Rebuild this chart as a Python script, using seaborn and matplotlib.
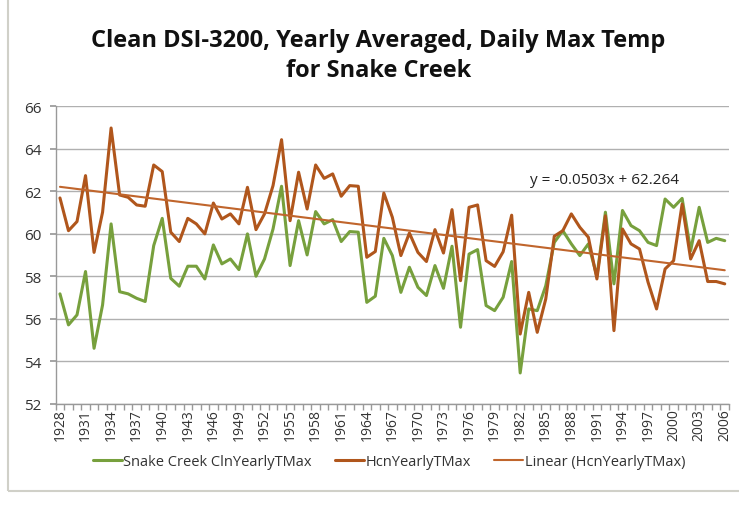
import numpy as np
import pandas as pd
import matplotlib
matplotlib.use("Agg")
import matplotlib.pyplot as plt
import seaborn as sns

years = list(range(1928, 2007))

snake_creek = [
    57.18, 55.72, 56.19, 58.23, 54.62, 56.66, 60.47, 57.28, 57.18, 56.97,
    56.82, 59.45, 60.73, 57.91, 57.54, 58.48, 58.48, 57.88, 59.48, 58.59,
    58.82, 58.32, 60.00, 58.01, 58.82, 60.23, 62.24, 58.51, 60.62, 59.01,
    61.05, 60.47, 60.67, 59.64, 60.11, 60.08, 56.78, 57.07, 59.79, 58.98,
    57.25, 58.43, 57.49, 57.10, 58.51, 57.44, 59.42, 55.61, 59.05, 59.26,
    56.63, 56.39, 57.02, 58.70, 53.46, 56.47, 56.39, 57.56, 59.60, 60.15,
    59.53, 58.98, 59.53, 58.00, 61.02, 57.65, 61.10, 60.39, 60.15, 59.60,
    59.45, 61.64, 61.25, 61.67, 59.21, 61.25, 59.60, 59.79, 59.68,
]

hcn = [
    61.69, 60.15, 60.58, 62.74, 59.13, 61.02, 64.98, 61.83, 61.72, 61.36,
    61.30, 63.24, 62.93, 60.08, 59.64, 60.73, 60.47, 60.00, 61.45, 60.70,
    60.94, 60.47, 62.19, 60.20, 60.94, 62.27, 64.43, 60.62, 62.90, 61.17,
    63.24, 62.61, 62.82, 61.77, 62.27, 62.24, 58.90, 59.17, 61.92, 60.78,
    58.98, 60.04, 59.13, 58.70, 60.20, 59.10, 61.14, 57.80, 61.25, 61.36,
    58.74, 58.47, 59.16, 60.88, 55.29, 57.25, 55.37, 56.94, 59.89, 60.15,
    60.94, 60.31, 59.84, 57.88, 60.85, 55.45, 60.23, 59.53, 59.29, 57.73,
    56.47, 58.35, 58.74, 61.40, 58.82, 59.68, 57.76, 57.76, 57.65,
]

trend_slope = -0.0503
trend_intercept = 62.264

green = "#77a03d"
brown = "#b0561c"
trend_col = "#c0652c"

sns.set_theme(style="white")
plt.rcParams['font.family'] = ['Open Sans', 'DejaVu Sans']

idx = np.arange(len(years))
df = pd.DataFrame({"i": idx, "snake": snake_creek, "hcn": hcn,
                   "trend": trend_slope * (idx + 1) + trend_intercept})

fig = plt.figure(figsize=(7.39, 5.06), dpi=100)
ax = fig.add_axes([55.7 / 739, 1 - 405 / 506, (729 - 55.7) / 739, (405 - 107.3) / 506])

sns.lineplot(data=df, x="i", y="snake", ax=ax, color=green, linewidth=2.2,
             label="Snake Creek ClnYearlyTMax")
sns.lineplot(data=df, x="i", y="hcn", ax=ax, color=brown, linewidth=2.2,
             label="HcnYearlyTMax")
sns.lineplot(data=df, x="i", y="trend", ax=ax, color=trend_col, linewidth=1.5,
             label="Linear (HcnYearlyTMax)")

ax.set_xlim(-0.5, len(years) - 0.5)
ax.set_ylim(52, 66)
ax.set_yticks(np.arange(52, 67, 2))
ax.set_yticklabels([str(v) for v in range(52, 67, 2)], fontsize=11, color="#333333")
ax.yaxis.grid(True, color="#b0b0b0", linewidth=1)
ax.set_axisbelow(True)

major = idx[::3]
ax.set_xticks(major)
ax.set_xticklabels([str(years[i]) for i in major], rotation=90, fontsize=10, color="#333333")
ax.set_xticks(np.arange(-0.5, len(years), 1), minor=True)
ax.tick_params(axis="x", which="major", length=0, pad=3)
ax.tick_params(axis="x", which="minor", length=4, color="#999999", bottom=True)
ax.tick_params(axis="y", length=4, color="#999999", left=True, pad=6)
ax.set_xlabel("")
ax.set_ylabel("")
for s in ["top", "right"]:
    ax.spines[s].set_visible(False)
for s in ["left", "bottom"]:
    ax.spines[s].set_color("#999999")
    ax.spines[s].set_linewidth(1)

ax.text(0.705, 0.755, "y = -0.0503x + 62.264", transform=ax.transAxes,
        fontsize=11, color="#222222", ha="left", va="center")

fig.text(0.512, 0.889, "Clean DSI-3200, Yearly Averaged, Daily Max Temp\nfor Snake Creek",
         ha="center", va="center", fontsize=17, fontweight="bold", color="#111111",
         linespacing=1.3)

leg = ax.legend(loc="upper center", bbox_to_anchor=(0.495, -0.125), ncol=3, frameon=False,
                fontsize=10.5, handlelength=2.0, columnspacing=1.6, handletextpad=0.1)
for t in leg.get_texts():
    t.set_color("#333333")

border = plt.Rectangle((8 / 739, 1 - 492 / 506), 1.5, 2, transform=fig.transFigure,
                       fill=False, edgecolor="#d0d0c8", linewidth=1.5)
fig.patches.append(border)

fig.savefig("out.png", dpi=100)
